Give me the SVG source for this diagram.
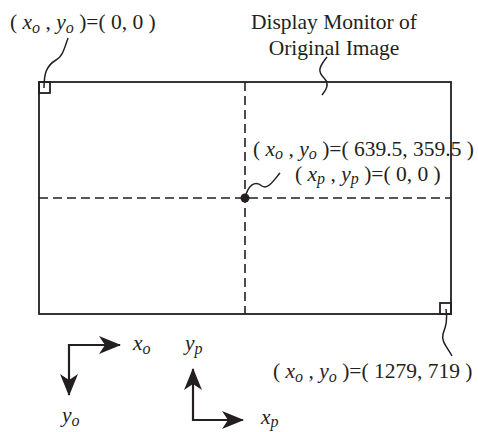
<svg xmlns="http://www.w3.org/2000/svg" width="478" height="432" viewBox="0 0 478 432">
<style>
text{font-family:"Liberation Serif","Times New Roman",serif;font-size:21.5px;fill:#231f20}
.i{font-style:italic}
.s{font-size:16px;font-style:italic}
.line{fill:none;stroke:#231f20;stroke-width:1.8}
.dash{fill:none;stroke:#231f20;stroke-width:1.6;stroke-dasharray:9 5}
.sq{fill:none;stroke:#231f20;stroke-width:1.5}
.ax{fill:none;stroke:#231f20;stroke-width:2.2}
</style>
<defs>
<marker id="ah" markerWidth="24" markerHeight="20" refX="21" refY="10" orient="auto" markerUnits="userSpaceOnUse">
<path d="M0,1 L22,10 L0,19 L6,10 Z" fill="#231f20"/>
</marker>
</defs>
<rect fill="#fff" width="478" height="432"/>
<g id="monitor">
<rect class="line" x="39" y="82" width="412" height="232"/>
<rect class="line" x="39" y="82" width="11" height="11"/>
<rect class="line" x="440" y="303" width="11" height="11"/>
</g>
<g id="connectors">
<line class="dash" x1="245" y1="82" x2="245" y2="314"/>
<line class="dash" x1="39" y1="198" x2="451" y2="198"/>
<path class="sq" d="M68,38 C64,50 62,57 56,60 C46,66 44,74 44,88"/>
<path class="sq" d="M327,57 C318,68 318,72 324,78 C330,84 326,90 322,95"/>
<path class="sq" d="M245,198 C248,185 255,180 262,186 C268,190 274,180 280,173"/>
<path class="sq" d="M446,309 C448,322 445,328 443,334 C441,342 448,348 452,356"/>
</g>
<circle id="origin" cx="245" cy="198" r="4.5" fill="#231f20"/>
<g id="label-origin">
<text x="10" y="29">( <tspan class="i">x</tspan><tspan class="s" dy="4">o</tspan><tspan dy="-4"> , </tspan><tspan class="i">y</tspan><tspan class="s" dy="4">o</tspan><tspan dy="-4"> )=( 0, 0 )</tspan></text>
</g>
<g id="label-monitor">
<text x="334" y="29" text-anchor="middle">Display Monitor of</text>
<text x="334" y="55" text-anchor="middle">Original Image</text>
</g>
<g id="label-center">
<text x="253" y="156">( <tspan class="i">x</tspan><tspan class="s" dy="3">o</tspan><tspan dy="-3"> , </tspan><tspan class="i">y</tspan><tspan class="s" dy="3">o</tspan><tspan dy="-3"> )=( 639.5, 359.5 )</tspan></text>
<text x="295" y="181">( <tspan class="i">x</tspan><tspan class="s" dy="3">p</tspan><tspan dy="-3"> , </tspan><tspan class="i">y</tspan><tspan class="s" dy="3">p</tspan><tspan dy="-3"> )=( 0, 0 )</tspan></text>
</g>
<g id="label-end">
<text x="273" y="378">( <tspan class="i">x</tspan><tspan class="s" dy="4">o</tspan><tspan dy="-4"> , </tspan><tspan class="i">y</tspan><tspan class="s" dy="4">o</tspan><tspan dy="-4"> )=( 1279, 719 )</tspan></text>
</g>
<g id="axes-o">
<path class="ax" d="M69,345 L120,345" marker-end="url(#ah)"/>
<path class="ax" d="M69,344 L69,395" marker-end="url(#ah)"/>
<text class="i" x="133" y="350">x<tspan class="s" dy="4">o</tspan></text>
<text class="i" x="62" y="422">y<tspan class="s" dy="4">o</tspan></text>
</g>
<g id="axes-p">
<path class="ax" d="M193,421 L193,369" marker-end="url(#ah)"/>
<path class="ax" d="M192,420 L243,420" marker-end="url(#ah)"/>
<text class="i" x="185" y="350">y<tspan class="s" dy="4">p</tspan></text>
<text class="i" x="261" y="424">x<tspan class="s" dy="3">p</tspan></text>
</g>
</svg>
